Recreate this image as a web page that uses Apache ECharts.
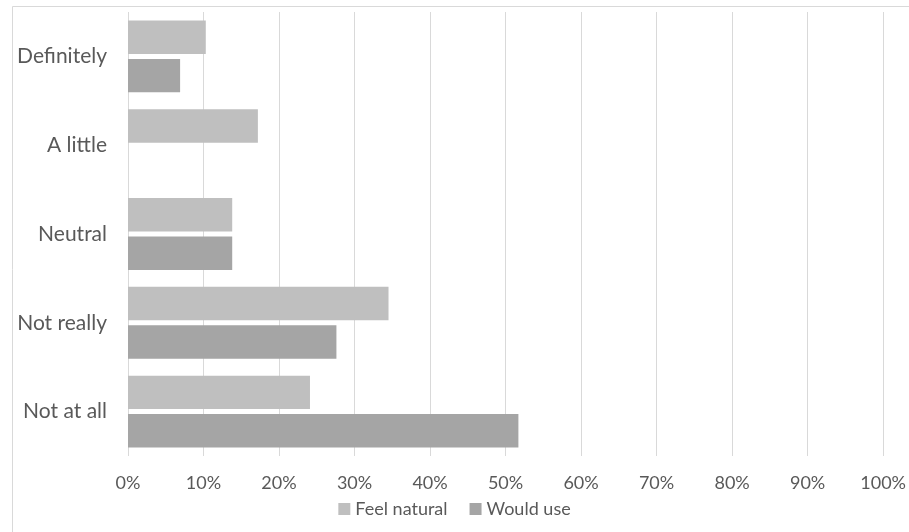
<!DOCTYPE html>
<html>
<head>
<meta charset="utf-8">
<script src="https://cdn.jsdelivr.net/npm/echarts@6/dist/echarts.min.js"></script>
<style>
  html, body { margin: 0; padding: 0; background: #ffffff; }
  #chart { width: 909px; height: 532px; }
</style>
</head>
<body>
<div id="chart"></div>
<script>
// Survey answers, shown top to bottom
const categories = ['Definitely', 'A little', 'Neutral', 'Not really', 'Not at all'];
// Share of respondents (%)
const feelNatural = [10.3, 17.2, 13.8, 34.5, 24.1];
const wouldUse = [6.9, 0, 13.8, 27.6, 51.7];
const seriesNames = ['Feel natural', 'Would use'];

const textColor = '#595959';
const fontFamily = 'Lato, "Open Sans", sans-serif';

const chart = echarts.init(document.getElementById('chart'), null, { renderer: 'canvas' });

chart.setOption({
  animation: false,
  backgroundColor: '#ffffff',
  textStyle: { fontFamily: fontFamily },
  graphic: [{
    type: 'rect',
    left: 10,
    top: 4,
    shape: { width: 897, height: 526 },
    style: { fill: 'none', stroke: '#d9d9d9', lineWidth: 1 },
    silent: true
  }],
  grid: { left: 128, right: 25, top: 12, bottom: 76, containLabel: false },
  legend: {
    bottom: 9,
    left: 'center',
    itemWidth: 12,
    itemHeight: 12,
    itemGap: 22,
    icon: 'rect',
    textStyle: { color: textColor, fontSize: 18, fontFamily: fontFamily },
    data: seriesNames
  },
  xAxis: {
    type: 'value',
    min: 0,
    max: 100,
    interval: 10,
    axisLine: { show: false },
    axisTick: { show: false },
    splitLine: { lineStyle: { color: '#d9d9d9', width: 1 } },
    axisLabel: {
      color: textColor,
      fontSize: 18,
      margin: 18,
      formatter: v => v + '%'
    }
  },
  yAxis: {
    type: 'category',
    inverse: true,
    data: categories,
    axisLine: { show: false },
    axisTick: { show: false },
    axisLabel: { color: textColor, fontSize: 21, margin: 21 }
  },
  series: [
    {
      name: seriesNames[0],
      type: 'bar',
      data: feelNatural,
      barGap: '15%',
      barCategoryGap: '19%',
      itemStyle: { color: '#bfbfbf' }
    },
    {
      name: seriesNames[1],
      type: 'bar',
      data: wouldUse,
      barGap: '15%',
      barCategoryGap: '19%',
      itemStyle: { color: '#a5a5a5' }
    }
  ]
});
</script>
</body>
</html>
